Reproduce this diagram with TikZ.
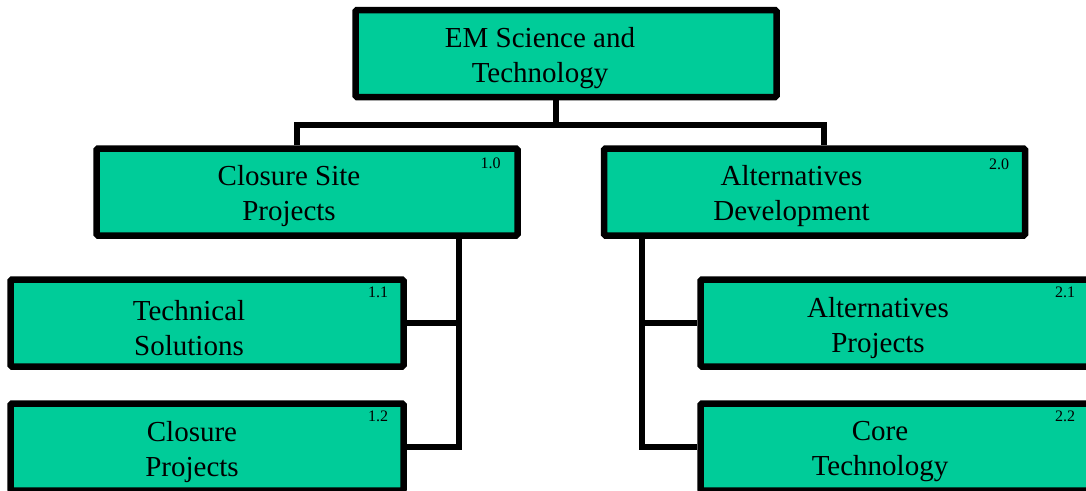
\documentclass[tikz,border=0pt]{standalone}
\usepackage{fontspec}
\setmainfont{Liberation Serif}
\usepackage{xcolor}
\usetikzlibrary{positioning,calc}
\definecolor{wbsgreen}{HTML}{00CC99}
\tikzset{
  wbsbox/.style={draw=black, line width=6.5pt, fill=wbsgreen, rounded corners=1.5pt, inner sep=0pt, minimum height=87pt},
  widebox/.style={wbsbox, minimum width=421pt},
  taskbox/.style={wbsbox, minimum width=393pt},
  wbstext/.style={align=center, inner sep=0pt, font=\fontsize{29}{35}\selectfont},
  wbsnum/.style={anchor=base east, inner sep=0pt, font=\fontsize{16}{19}\selectfont},
  link/.style={draw=black, line width=6.5pt}
}
\begin{document}
\begin{tikzpicture}[x=1pt, y=1pt]
  \useasboundingbox (0,0) rectangle (1086,-490);

  % boxes
  \node[widebox] (root) at (566,-53.5) {};
  \node[widebox] (b10) at (307,-192) {};
  \node[widebox] (b20) at (814.5,-192) {};
  \node[taskbox] (b11) at (207,-323) {};
  \node[taskbox] (b12) at (207,-447) {};
  \node[taskbox] (b21) at (897,-323) {};
  \node[taskbox] (b22) at (897,-447) {};

  % titles
  \node[wbstext] (troot) at ([shift={(-26pt,-5pt)}]root) {EM Science and\\Technology};
  \node[wbstext] (t10) at ([shift={(-18pt,-4pt)}]b10) {Closure Site\\Projects};
  \node[wbstext] (t20) at ([shift={(-23pt,-4pt)}]b20) {Alternatives\\Development};
  \node[wbstext] (t11) at ([shift={(-18pt,-5pt)}]b11) {Technical\\Solutions};
  \node[wbstext] (t12) at ([shift={(-15pt,-5pt)}]b12) {Closure\\Projects};
  \node[wbstext] (t21) at ([shift={(-19pt,-5pt)}]b21) {Alternatives\\Projects};
  \node[wbstext] (t22) at ([shift={(-17pt,-5pt)}]b22) {Core\\Technology};

  % numbers
  \node[wbsnum] (n10) at ([shift={(-20pt,-23pt)}]b10.north east) {1.0};
  \node[wbsnum] (n20) at ([shift={(-19pt,-24pt)}]b20.north east) {2.0};
  \node[wbsnum] (n11) at ([shift={(-18.5pt,-21pt)}]b11.north east) {1.1};
  \node[wbsnum] (n12) at ([shift={(-18.5pt,-21pt)}]b12.north east) {1.2};
  \node[wbsnum] (n21) at ([shift={(-21.5pt,-21pt)}]b21.north east) {2.1};
  \node[wbsnum] (n22) at ([shift={(-21.5pt,-21pt)}]b22.north east) {2.2};

  % connectors
  \coordinate (bus) at ([xshift=-10pt]root.south |- 0,-125);
  \draw[link] ([xshift=-10pt]root.south) -- (bus);
  \draw[link] ([xshift=-10pt]b10.north) |- (bus) -| ([xshift=9.5pt]b20.north);

  \coordinate (lspine) at ([xshift=152pt]b10.south);
  \draw[link] (lspine) |- (b12.east);
  \draw[link] (b11.east) -- (b11.east -| lspine);

  \coordinate (rspine) at ([xshift=-172.5pt]b20.south);
  \draw[link] (rspine) |- (b22.west);
  \draw[link] (b21.west) -- (b21.west -| rspine);
\end{tikzpicture}
\end{document}
